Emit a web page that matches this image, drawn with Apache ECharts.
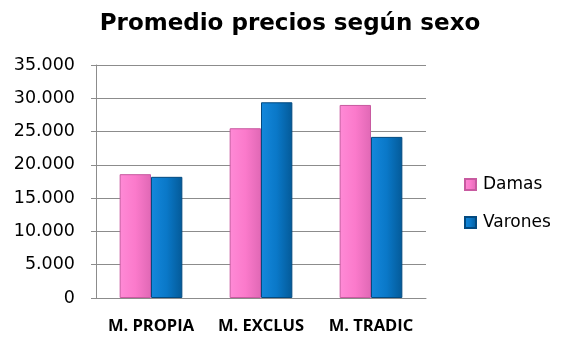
<!DOCTYPE html>
<html>
<head>
<meta charset="utf-8">
<script src="https://cdn.jsdelivr.net/npm/echarts@6/dist/echarts.min.js"></script>
<style>
  html, body { margin: 0; padding: 0; background: #fff; }
  #chart { width: 564px; height: 338px; }
</style>
</head>
<body>
<div id="chart"></div>
<script>
// Average price per segment, split by sex
const categories = ['M. PROPIA', 'M. EXCLUS', 'M. TRADIC'];
const damas = [18600, 25500, 29000];
const varones = [18200, 29400, 24200];
const yTicks = { min: 0, max: 35000, interval: 5000 };

function barGradient(c0, c1, c2) {
  return new echarts.graphic.LinearGradient(0, 0, 1, 0, [
    { offset: 0, color: c0 },
    { offset: 0.5, color: c1 },
    { offset: 1, color: c2 }
  ]);
}

const chart = echarts.init(document.getElementById('chart'), null, { renderer: 'canvas' });
chart.setOption({
  animation: false,
  title: {
    text: 'Promedio precios según sexo',
    left: 285, top: 8, textAlign: 'center',
    textStyle: { fontFamily: 'DejaVu Sans', fontWeight: 'bold', fontSize: 23, color: '#000' }
  },
  legend: {
    orient: 'vertical',
    left: 459, top: 171,
    itemWidth: 11, itemHeight: 11, itemGap: 21,
    icon: 'rect',
    textStyle: { fontFamily: 'DejaVu Sans', fontSize: 17, color: '#000', padding: [0, 0, 0, 2] },
    data: ['Damas', 'Varones']
  },
  grid: { left: 96, right: 138, top: 65, bottom: 40, containLabel: false },
  xAxis: {
    type: 'category',
    data: categories,
    axisLine: { show: true, lineStyle: { color: '#8c8c8c', width: 1 } },
    axisTick: { show: false },
    axisLabel: {
      interval: 0, hideOverlap: false,
      fontFamily: 'Open Sans', fontWeight: 'bold', fontSize: 16.5, color: '#000', margin: 20
    }
  },
  yAxis: {
    type: 'value',
    min: yTicks.min, max: yTicks.max, interval: yTicks.interval,
    axisLine: { show: true, lineStyle: { color: '#8c8c8c', width: 1 } },
    axisTick: { show: true, length: 5, lineStyle: { color: '#8c8c8c' } },
    splitLine: { lineStyle: { color: '#8c8c8c', width: 1 } },
    axisLabel: {
      fontFamily: 'DejaVu Sans', fontSize: 17.5, color: '#000', margin: 21,
      formatter: v => v.toLocaleString('de-DE')
    }
  },
  series: [
    {
      name: 'Damas', type: 'bar', data: damas,
      barGap: '0%', barCategoryGap: '43%',
      itemStyle: {
        color: barGradient('#ff8ad6', '#fb7acb', '#e068b5'),
        borderColor: '#c85aa0', borderWidth: 1
      }
    },
    {
      name: 'Varones', type: 'bar', data: varones,
      itemStyle: {
        color: barGradient('#1488dc', '#0a78c8', '#045a98'),
        borderColor: '#034a80', borderWidth: 1
      }
    }
  ]
});
</script>
</body>
</html>
